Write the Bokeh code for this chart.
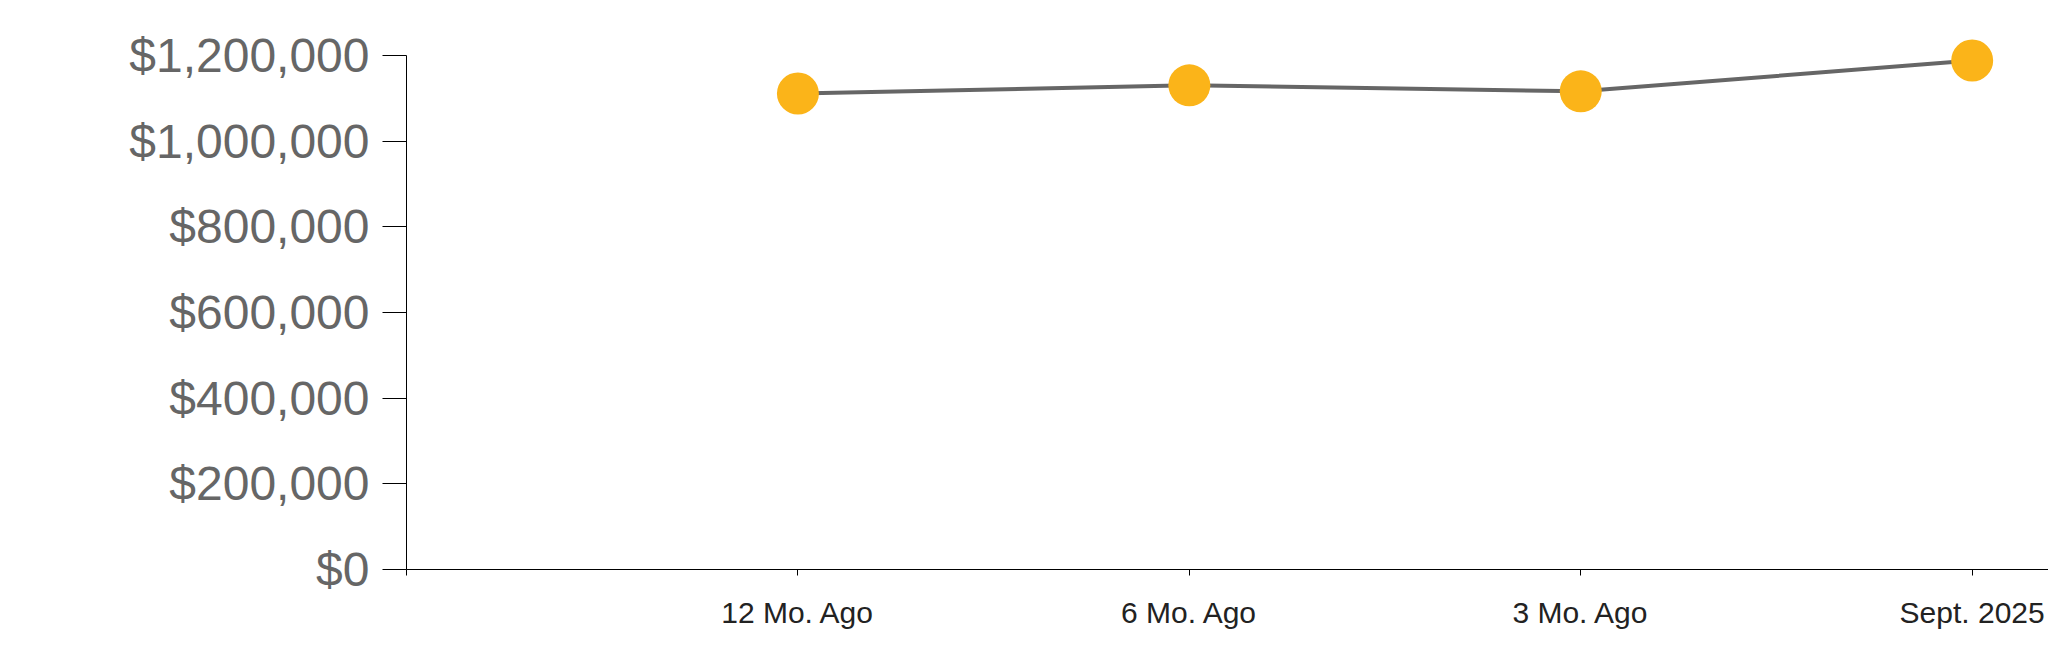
from bokeh.plotting import figure
from bokeh.models import ColumnDataSource, FixedTicker, NumeralTickFormatter, Range1d
from bokeh.embed import file_html
from bokeh.resources import INLINE

categories = ["12 Mo. Ago", "6 Mo. Ago", "3 Mo. Ago", "Sept. 2025"]
values = [1111000, 1130000, 1116000, 1188000]
y_ticks = [0, 200000, 400000, 600000, 800000, 1000000, 1200000]

xs = list(range(1, len(categories) + 1))
src = ColumnDataSource(dict(x=xs, y=values, cat=categories))

W, H = 2048, 663
p = figure(width=W, height=H, output_backend="svg", toolbar_location=None,
           x_range=Range1d(0, 4.195), y_range=Range1d(0, 1300000),
           min_border_left=406, min_border_right=0, min_border_top=12, min_border_bottom=94)
p.outline_line_color = None
p.xgrid.visible = False
p.ygrid.visible = False
p.background_fill_color = "white"
p.border_fill_color = "white"

p.line("x", "y", source=src, line_color="#666666", line_width=4)
p.scatter("x", "y", source=src, size=42, fill_color="#FBB419", line_color=None)

yax = p.yaxis[0]
yax.ticker = FixedTicker(ticks=y_ticks)
yax.formatter = NumeralTickFormatter(format="$0,0")
yax.bounds = (0, 1200000)
yax.axis_line_color = "black"
yax.axis_line_width = 1
yax.major_tick_in = 0
yax.major_tick_out = 24
yax.major_tick_line_color = "black"
yax.minor_tick_line_color = None
yax.major_label_standoff = 13
yax.major_label_text_font = "Liberation Sans"
yax.major_label_text_font_size = "48px"
yax.major_label_text_color = "#666666"

xax = p.xaxis[0]
xax.ticker = FixedTicker(ticks=[0] + xs)
xax.major_label_overrides = {0: ""} | {x: c for x, c in zip(xs, categories)}
xax.axis_line_color = "black"
xax.major_tick_in = 0
xax.major_tick_out = 6
xax.major_tick_line_color = "black"
xax.minor_tick_line_color = None
xax.major_label_standoff = 20
xax.major_label_text_font = "Liberation Sans"
xax.major_label_text_font_size = "30px"
xax.major_label_text_color = "#222222"

open("out.html", "w").write(file_html(p, INLINE))
